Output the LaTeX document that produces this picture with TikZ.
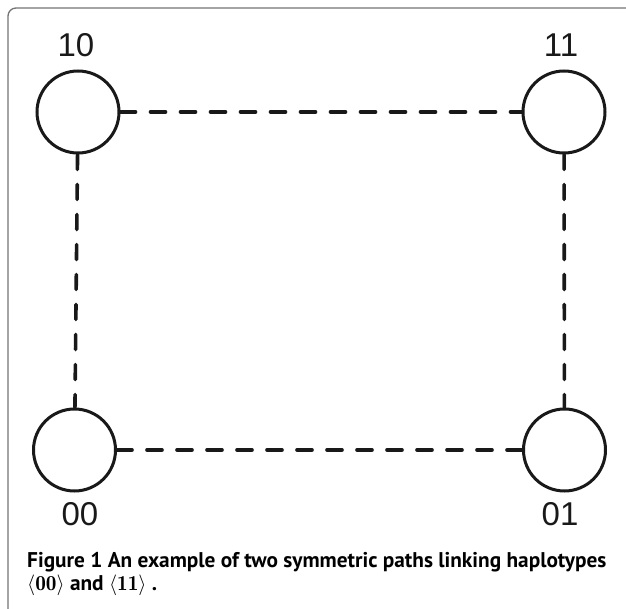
\documentclass[tikz,border=0pt]{standalone}
\usepackage{fontspec}
\setsansfont{PT Sans}
\newfontfamily\labelfont{Liberation Sans}
\begin{document}
\begin{tikzpicture}[x=1pt,y=-1pt,
  hap/.style={circle,draw=black!90,line width=3pt,minimum size=82pt,inner sep=0pt},
  link/.style={draw=black!90,line width=3.6pt,line cap=round,dash pattern=on 15pt off 15pt},
  lab/.style={inner sep=0pt,font=\labelfont\fontsize{33}{33}\selectfont,text=black!90},
  captext/.style={inner sep=0pt,anchor=base west,align=left,
    font=\sffamily\bfseries\fontsize{21.3}{23}\selectfont}]
\useasboundingbox (0,0) rectangle (626,609);
% open frame with rounded top-left corner
\draw[black!55,line width=1.3pt,rounded corners=8pt] (8,612) -- (8,8) -- (630,8);
% haplotype nodes
\node[hap] (n10) at (78,112) {};
\node[hap] (n11) at (564,112) {};
\node[hap] (n00) at (74.5,450) {};
\node[hap] (n01) at (564.5,450) {};
% labels
\node[lab] (l10) at (76,45) {10};
\node[lab] (l11) at (561,45) {11};
\node[lab] (l00) at (80,514) {00};
\node[lab] (l01) at (560,514) {01};
% dashed paths
\draw[link] (n10) -- (n11);
\draw[link] (n00) -- (n01);
\draw[link] (n10) -- (n00);
\draw[link] (n11) -- (n01);
% caption, two lines in one block (base anchor = last line)
\node[captext] (cap) at (27,590) {Figure 1 An example of two symmetric paths linking haplotypes\\
  $\langle\mathbf{00}\rangle$ and $\langle\mathbf{11}\rangle$ .};
\end{tikzpicture}
\end{document}
